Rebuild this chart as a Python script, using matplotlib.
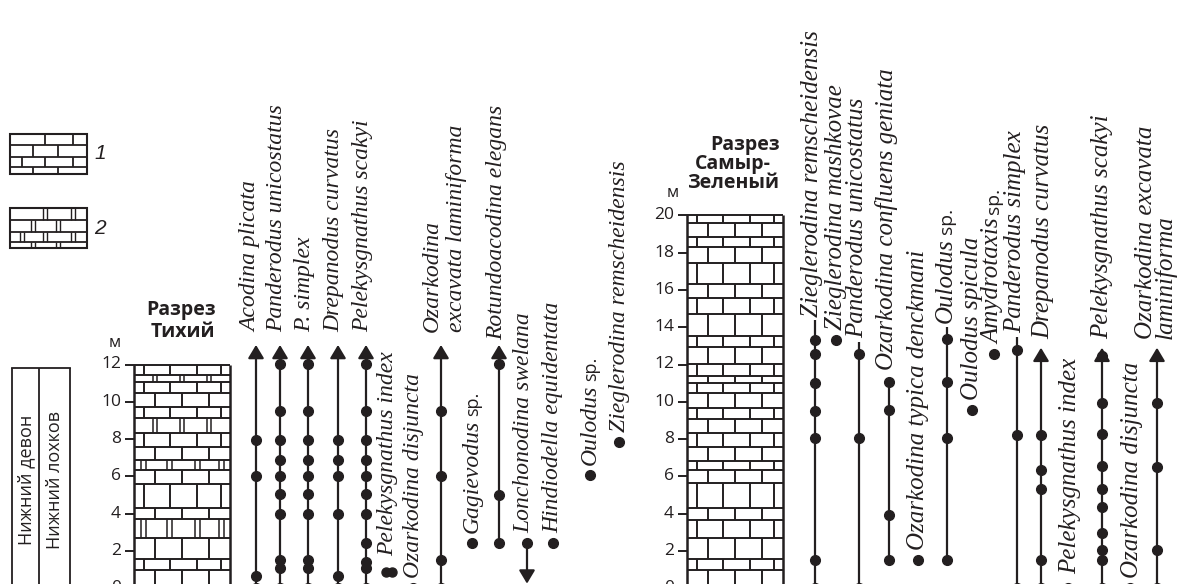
import matplotlib
matplotlib.use("Agg")
import matplotlib.pyplot as plt

INK = "#231f20"
SANS = "Open Sans"

W, H = 1179, 584
ZERO_PX, PX_PER_M = 588.3, 18.65   # depth scale shared by both sections


def px2m(px):
    return (ZERO_PX - px) / PX_PER_M


# ---- Tikhy section: bed tops (m) and lithology (1 - limestone, 2 - dolomitic limestone)
tikhy_tops = [0.98, 1.57, 2.68, 3.70, 4.32, 5.58, 6.34, 6.88, 7.59, 8.34,
              9.15, 9.74, 10.49, 11.05, 11.44, 12.0]
tikhy_lith = [1, 1, 1, 2, 1, 1, 1, 2, 1, 1, 2, 1, 1, 1, 2, 1]

tikhy_taxa = ["Acodina plicata", "Panderodus unicostatus", "P. simplex",
              "Drepanodus curvatus", "Pelekysgnathus scakyi", "Pelekysgnathus index",
              "Ozarkodina disjuncta", "Ozarkodina\nexcavata laminiforma", "Gagievodus sp.",
              "Rotundoacodina elegans", "Lonchonodina swelana", "Hindiodella equidentata",
              "Oulodus sp.", "Zieglerodina remscheidensis"]
tikhy_levels = [
    [0, 0.66, 6.0, 7.95],
    [0, 1.1, 1.5, 4.0, 5.05, 6.0, 6.9, 7.95, 9.5, 12.05],
    [0, 1.1, 1.5, 4.0, 5.05, 6.0, 6.9, 7.95, 9.5, 12.05],
    [0, 0.66, 4.0, 6.0, 6.9, 7.95],
    [0, 1.1, 1.43, 2.44, 4.0, 5.05, 6.0, 6.9, 7.95, 9.5, 12.05],
    [0.9],
    [0],
    [0, 1.5, 6.0, 9.5],
    [2.41],
    [2.41, 5.0, 12.05],
    [2.41],
    [2.41],
    [6.07],
    [7.86],
]
# range continues beyond the sampled interval: "up"/"down" arrows
tikhy_open = ["up", "up", "up", "up", "up", None, None, "up", None, "up", "down",
              None, None, None]

# ---- Samyr-Zeleny section
samyr_tops = [0.98, 1.55, 2.68, 3.66, 4.29, 5.63, 6.34, 6.83, 7.59, 8.31, 9.08,
              9.65, 10.46, 11.02, 11.40, 12.03, 12.95, 13.53, 14.69, 15.58, 16.32,
              17.46, 18.32, 18.82, 19.57, 20.0]
samyr_lith = [1] * len(samyr_tops)

samyr_taxa = ["Zieglerodina remscheidensis", "Zieglerodina mashkovae",
              "Panderodus unicostatus", "Ozarkodina confluens geniata",
              "Ozarkodina typica denckmani", "Oulodus sp.", "Oulodus spicula",
              "Amydrotaxis sp.", "Panderodus simplex", "Drepanodus curvatus",
              "Pelekysgnathus index", "Pelekysgnathus scakyi", "Ozarkodina disjuncta",
              "Ozarkodina excavata\nlaminiforma"]
samyr_levels = [
    [0, 1.52, 8.04, 9.5, 11.02, 12.56, 13.3],
    [13.3],
    [0, 8.04, 12.56],
    [1.54, 3.94, 9.56, 11.06],
    [1.54],
    [1.54, 8.06, 11.06, 13.35],
    [9.56],
    [12.56],
    [0, 8.24, 12.8],
    [0, 1.54, 5.35, 6.34, 8.2],
    [0],
    [0, 1.54, 2.05, 2.95, 4.35, 5.35, 6.56, 8.3, 9.94, 12.45],
    [0],
    [0, 2.05, 6.5, 9.94],
]
# "tail" - range line runs on a little above the highest find
samyr_open = ["tail", None, "tail", None, None, "tail", None, None, "tail", "up",
              None, "up", None, "up"]
samyr_tail_top = [14.4, None, 13.2, None, None, 14.0, None, None, 13.5, None,
                  None, None, None, None]

# ---- layout (pixels)
tikhy_x = [256, 280, 308, 338, 366, 389, 413, 441, 472, 499, 527, 553, 590, 619]
tikhy_label_x = [251, 277, 305, 334, 363, 388, 414, 444, 472, 497, 524, 553, 590, 620]
tikhy_label_gap = [13, 13, 13, 13, 13, 16, 10, 13, 10, 5, 10, 10, 10, 10]
samyr_x = [815, 836, 859, 889, 918, 947, 972, 994, 1017, 1041, 1068, 1102, 1130, 1157]
samyr_label_x = [812, 836, 857, 887, 918, 946, 972, 993, 1015, 1043, 1070, 1102, 1132, 1156]
samyr_label_gap = [3, 10, 4, 12, 10, 4, 10, 10, 4, 9, 14, 9, 10, 9]
TIKHY_COL, SAMYR_COL, COL_W = 134, 687, 96
TIKHY_ARROW, SAMYR_ARROW = 13.05, 12.9
TIKHY_LABEL_SIZE, SAMYR_LABEL_SIZE = 17, 18

BRICK_A = [0.10, 0.37, 0.66, 0.91]
BRICK_B = [0.22, 0.50, 0.78]

fig = plt.figure(figsize=(W / 100, H / 100), dpi=100)
page = fig.add_axes([0, 0, 1, 1])
page.set_xlim(0, W)
page.set_ylim(H, 0)
page.axis("off")
ax = fig.add_axes([0, 0, 1, 1])
ax.set_xlim(0, W)
ax.set_ylim(px2m(H), px2m(0))
ax.axis("off")
renderer = fig.canvas.get_renderer()


def draw_column(x0, tops, lith):
    bases = [-1.0] + tops[:-1]
    for i, (lo, hi, kind) in enumerate(zip(bases, tops, lith)):
        ax.hlines(hi, x0, x0 + COL_W, color=INK, lw=1.4)
        for f in (BRICK_A if i % 2 else BRICK_B):
            xv = x0 + f * COL_W
            if kind == 2:
                ax.vlines([xv - 2.2, xv + 2.2], lo, hi, color=INK, lw=1.1)
            else:
                ax.vlines(xv, lo, hi, color=INK, lw=1.4)
    ax.vlines([x0, x0 + COL_W], -1, tops[-1], color=INK, lw=1.8)
    ticks = list(range(0, int(tops[-1]) + 1, 2))
    ax.hlines(ticks, x0 - 9, x0, color=INK, lw=1.4)
    for t in ticks:
        ax.text(x0 - 13, t, str(t), ha="right", va="center", fontsize=12.5,
                family=SANS, color=INK)


def taxon_label(x, y, name, size, linespacing):
    kw = dict(rotation=90, ha="center", va="bottom", color=INK)
    genus = name[:-4] if name.endswith(" sp.") else name
    t = ax.text(x, y, genus, family="Liberation Serif", style="italic",
                fontsize=size, multialignment="left", linespacing=linespacing, **kw)
    if genus != name:
        # open nomenclature "sp." is set upright in a smaller sans face
        top = t.get_window_extent(renderer).y1
        y_sp = ax.transData.inverted().transform((0, top + 4))[1]
        ax.text(x + 1, y_sp, "sp.", family=SANS, fontsize=size - 4, **kw)


def arrow(x, tip, tail):
    ax.annotate("", xy=(x, tip), xytext=(x, tail), annotation_clip=False,
                arrowprops=dict(arrowstyle="-|>,head_length=0.5,head_width=0.3",
                                color=INK, lw=1.6, shrinkA=0, shrinkB=0,
                                mutation_scale=16))


def draw_taxa(names, levels, opens, xs, label_xs, gaps, arrow_top, size, linespacing,
              tail_tops=None):
    for k, (name, lv, op, x) in enumerate(zip(names, levels, opens, xs)):
        lo, hi = min(lv), max(lv)
        if op == "up":
            arrow(x, arrow_top, lo)
            top = arrow_top
        elif op == "down":
            arrow(x, 0.25, hi)
            top = hi
        elif op == "tail":
            top = tail_tops[k]
            ax.vlines(x, lo, top, color=INK, lw=1.6)
        else:
            if hi > lo:
                ax.vlines(x, lo, hi, color=INK, lw=1.6)
            top = hi
        if name == "Pelekysgnathus index" and lv[0] > 0:
            ax.plot([x - 3, x + 3], lv * 2, "o", ms=6.5, color=INK, clip_on=False)
        else:
            ax.plot([x] * len(lv), lv, "o", ms=7, color=INK, clip_on=False)
        taxon_label(label_xs[k], top + gaps[k] / PX_PER_M, name, size, linespacing)


draw_column(TIKHY_COL, tikhy_tops, tikhy_lith)
draw_column(SAMYR_COL, samyr_tops, samyr_lith)
draw_taxa(tikhy_taxa, tikhy_levels, tikhy_open, tikhy_x, tikhy_label_x,
          tikhy_label_gap, TIKHY_ARROW, TIKHY_LABEL_SIZE, 1.2)
draw_taxa(samyr_taxa, samyr_levels, samyr_open, samyr_x, samyr_label_x,
          samyr_label_gap, SAMYR_ARROW, SAMYR_LABEL_SIZE, 0.85, samyr_tail_top)

# section headings and units
head = dict(ha="center", va="center", fontsize=14, weight="bold", family=SANS, color=INK)
page.text(181, 310, "Разрез", **head)
page.text(183, 332, "Тихий", **head)
page.text(115, 343, "м", ha="center", va="center", fontsize=12, family=SANS, color=INK)
page.text(745, 145, "Разрез", **head)
page.text(733, 164, "Самыр-", **head)
page.text(733, 183, "Зеленый", **head)
page.text(673, 193, "м", ha="center", va="center", fontsize=12, family=SANS, color=INK)

# stratigraphic units
page.plot([12, 70], [368, 368], color=INK, lw=1.3)
page.vlines([12, 39, 70], 368, H + 5, color=INK, lw=1.3)
page.text(26, 480, "Нижний девон", rotation=90, ha="center", va="center", fontsize=13,
          family=SANS, color=INK)
page.text(55, 480, "Нижний лохков", rotation=90, ha="center", va="center", fontsize=13,
          family=SANS, color=INK)

# lithology legend
legend_rows = [133.5, 145, 156.7, 166.7, 173.5]
legend_bricks = [[45, 73], [33, 58], [22, 45, 73], [33, 58]]
for kind, dy in ((1, 0), (2, 74.8)):
    rows = [r + dy for r in legend_rows]
    page.add_patch(plt.Rectangle((10, rows[0]), 77, rows[-1] - rows[0], fill=False,
                                 ec=INK, lw=1.5))
    page.hlines(rows[1:-1], 10, 87, color=INK, lw=1.3)
    for (y0, y1), xs in zip(zip(rows[:-1], rows[1:]), legend_bricks):
        for xv in xs:
            if kind == 2:
                page.vlines([xv - 1.8, xv + 1.8], y0, y1, color=INK, lw=1.0)
            else:
                page.vlines(xv, y0, y1, color=INK, lw=1.3)
    page.text(100, (rows[0] + rows[-1]) / 2, str(kind), ha="center", va="center",
              fontsize=15, style="italic", family="Liberation Sans", color=INK)

fig.savefig("out.png", dpi=100, facecolor="white")
